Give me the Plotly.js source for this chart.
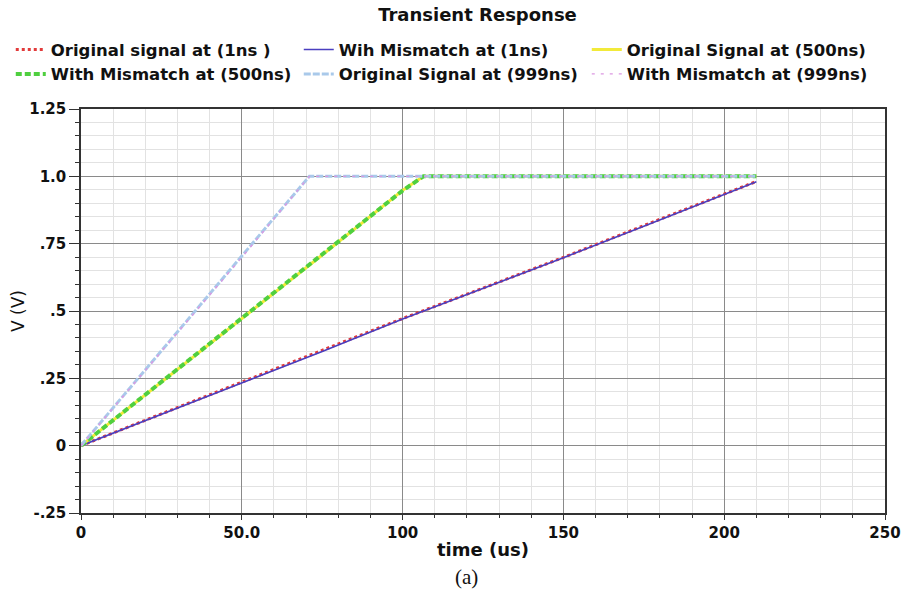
<!DOCTYPE html>
<html>
<head>
<meta charset="utf-8">
<script src="https://cdn.plot.ly/plotly-3.0.1.min.js"></script>
<style>html,body{margin:0;padding:0;background:#fff;}#chart{width:913px;height:596px;}</style>
</head>
<body>
<div id="chart"></div>
<script>
// ---- data ----
var seriesNames = [
  "Original signal at (1ns )",
  "Wih Mismatch at (1ns)",
  "Original Signal at (500ns)",
  "With Mismatch at (500ns)",
  "Original Signal at (999ns)",
  "With Mismatch at (999ns)"
];
var time1ns = [0, 25, 50, 75, 100, 125, 150, 175, 200, 210];
var orig1ns = [0, 0.118, 0.235, 0.352, 0.472, 0.585, 0.699, 0.817, 0.933, 0.981];
var mism1ns = [0, 0.116, 0.234, 0.350, 0.470, 0.584, 0.698, 0.815, 0.932, 0.980];

var time500ns = [0, 25, 50, 75, 100, 106.5, 150, 210];
var orig500ns = [0, 0.236, 0.472, 0.708, 0.948, 1.0, 1.0, 1.0];
var mism500ns = [0, 0.237, 0.473, 0.709, 0.947, 1.0, 1.0, 1.0];

var time999ns = [0, 25, 50, 71, 100, 150, 210];
var orig999ns = [0, 0.352, 0.700, 1.0, 1.0, 1.0, 1.0];
var mism999ns = [0, 0.350, 0.699, 1.0, 1.0, 1.0, 1.0];

var xTickVals = [0, 50, 100, 150, 200, 250];
var xTickText = ["0", "50.0", "100", "150", "200", "250"];
var yTickVals = [-0.25, 0, 0.25, 0.5, 0.75, 1.0, 1.25];
var yTickText = ["-.25", "0", ".25", ".5", ".75", "1.0", "1.25"];

var FONT = "DejaVu Sans, Verdana, sans-serif";

var traces = [
  {x: time1ns, y: orig1ns, name: seriesNames[0], line: {color: "#e23b3b", width: 3, dash: "dot"}},
  {x: time1ns, y: mism1ns, name: seriesNames[1], line: {color: "#4a3fc0", width: 1.6}},
  {x: time500ns, y: orig500ns, name: seriesNames[2], line: {color: "#f2ea3a", width: 3}},
  {x: time500ns, y: mism500ns, name: seriesNames[3], line: {color: "#4fcf3f", width: 4, dash: "6px,3px"}},
  {x: time999ns, y: orig999ns, name: seriesNames[4], line: {color: "#a9c9ea", width: 3, dash: "7px,2px"}},
  {x: time999ns, y: mism999ns, name: seriesNames[5], line: {color: "#dc98e2", width: 1.4, dash: "3px,6px"}}
];
traces.forEach(function(t){ t.type = "scatter"; t.mode = "lines"; });

var layout = {
  width: 913, height: 596,
  paper_bgcolor: "#ffffff", plot_bgcolor: "#ffffff",
  margin: {l: 80, r: 28, t: 109, b: 83},
  font: {family: FONT, size: 16, color: "#111"},
  title: {text: "Transient Response", font: {family: FONT, size: 18, color: "#111", weight: "bold"},
          x: 0.523, xanchor: "center", y: 0.976, yref: "container", yanchor: "middle"},
  showlegend: true,
  legend: {orientation: "h", x: -0.086, xanchor: "left", y: 1.19, yanchor: "top",
           entrywidth: 243, entrywidthmode: "pixels",
           font: {family: FONT, size: 16.5, color: "#111", weight: "bold"}, itemwidth: 30,
           bgcolor: "rgba(0,0,0,0)", traceorder: "normal"},
  xaxis: {
    range: [0, 250], tickmode: "array", tickvals: xTickVals, ticktext: xTickText,
    showline: true, linecolor: "#333", linewidth: 1.5, mirror: true,
    ticks: "outside", ticklen: 5, tickcolor: "#333",
    showgrid: true, gridcolor: "#8a8a8a", gridwidth: 1, zeroline: false,
    tickfont: {family: FONT, size: 15, color: "#111", weight: "bold"},
    minor: {dtick: 10, tick0: 0, showgrid: true, gridcolor: "#e2e2e2", ticks: "outside", ticklen: 3, tickcolor: "#333"},
    title: {text: "time (us)", font: {family: FONT, size: 18, color: "#111", weight: "bold"}, standoff: 3}
  },
  yaxis: {
    range: [-0.25, 1.25], tickmode: "array", tickvals: yTickVals, ticktext: yTickText,
    showline: true, linecolor: "#333", linewidth: 1.5, mirror: true,
    ticks: "outside", ticklen: 10, tickcolor: "#333",
    showgrid: true, gridcolor: "#8a8a8a", gridwidth: 1, zeroline: true, zerolinecolor: "#8a8a8a", zerolinewidth: 1,
    tickfont: {family: FONT, size: 15, color: "#111", weight: "bold"},
    minor: {dtick: 0.05, tick0: 0, showgrid: true, gridcolor: "#e2e2e2", ticks: "outside", ticklen: 4, tickcolor: "#333"},
    title: {text: "V (V)", font: {family: FONT, size: 17, color: "#111"}, standoff: 0}
  },
  annotations: [
    {text: "(a)", xref: "paper", yref: "paper", x: 0.4795, y: -0.158, xanchor: "center", yanchor: "middle",
     showarrow: false, font: {family: "Liberation Serif, Times New Roman, serif", size: 21, color: "#111"}}
  ]
};

Plotly.newPlot("chart", traces, layout, {displayModeBar: false, responsive: false});
</script>
</body>
</html>
